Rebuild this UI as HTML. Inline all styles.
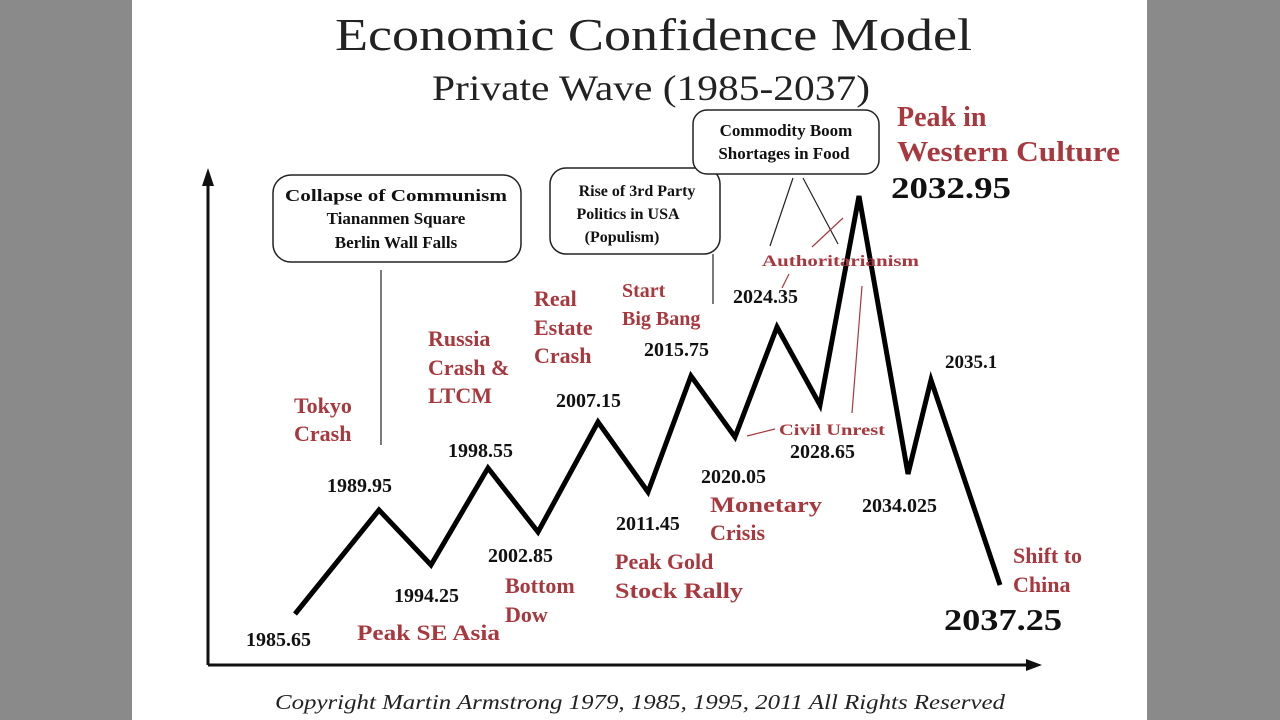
<!DOCTYPE html>
<html><head><meta charset="utf-8"><style>
body{margin:0;width:1280px;height:720px;background:#8a8a8a;overflow:hidden}
svg{display:block}
</style></head><body>
<svg width="1280" height="720" xmlns="http://www.w3.org/2000/svg" font-family="Liberation Serif, serif">
<rect x="0" y="0" width="1280" height="720" fill="#8a8a8a"/>
<rect x="132" y="0" width="1015" height="720" fill="#fff"/>
<text x="335" y="50" font-size="46" textLength="637" lengthAdjust="spacingAndGlyphs" fill="#222">Economic Confidence Model</text>
<text x="432" y="100" font-size="36" textLength="438" lengthAdjust="spacingAndGlyphs" fill="#222">Private Wave (1985-2037)</text>
<!-- axes -->
<g stroke="#111" stroke-width="3" fill="none">
<line x1="208" y1="180" x2="208" y2="665"/>
<line x1="208" y1="665" x2="1030" y2="665"/>
</g>
<polygon points="208,168 202,186 214,186" fill="#111"/>
<polygon points="1042,665 1026,659 1026,671" fill="#111"/>
<!-- boxes -->
<g fill="#fff" stroke="#222" stroke-width="1.5">
<rect x="273" y="175" width="248" height="87" rx="18"/>
<rect x="550" y="168" width="170" height="86" rx="16"/>
<rect x="693" y="110" width="186" height="64" rx="14"/>
</g>
<g stroke="#222" stroke-width="1.2">
<line x1="381" y1="270" x2="381" y2="445"/>
<line x1="713" y1="254" x2="713" y2="304"/>
<line x1="793" y1="178" x2="770" y2="246"/>
<line x1="803" y1="178" x2="838" y2="244"/>
</g>
<g stroke="#a8383e" stroke-width="1.2">
<line x1="843" y1="218" x2="812" y2="247"/>
<line x1="789" y1="274" x2="782" y2="288"/>
<line x1="862" y1="286" x2="852" y2="413"/>
<line x1="747" y1="436" x2="775" y2="429"/>
</g>
<g font-weight="bold" font-size="17" fill="#111" text-anchor="middle">
<text x="396" y="201" textLength="222" lengthAdjust="spacingAndGlyphs">Collapse of Communism</text>
<text x="396" y="224">Tiananmen Square</text>
<text x="396" y="248">Berlin Wall Falls</text>
<text x="637" y="196" font-size="16">Rise of 3rd Party</text>
<text x="628" y="219" font-size="16">Politics in USA</text>
<text x="622" y="242" font-size="16">(Populism)</text>
<text x="786" y="136">Commodity Boom</text>
<text x="784" y="159">Shortages in Food</text>
</g>
<!-- line -->
<polyline points="295,614 379,510 431,565 488,468 538,532 598,422 648,492 691,376 735,437 777,327 820,405 859,196 908,474 931,380 1000,585" fill="none" stroke="#000" stroke-width="5" stroke-linejoin="miter"/>
<!-- black labels -->
<g font-weight="bold" font-size="20" fill="#111">
<text x="246" y="646">1985.65</text>
<text x="327" y="492">1989.95</text>
<text x="394" y="602">1994.25</text>
<text x="448" y="457">1998.55</text>
<text x="488" y="562">2002.85</text>
<text x="556" y="407">2007.15</text>
<text x="616" y="530">2011.45</text>
<text x="644" y="356">2015.75</text>
<text x="701" y="483">2020.05</text>
<text x="733" y="303">2024.35</text>
<text x="790" y="458">2028.65</text>
<text x="862" y="512">2034.025</text>
<text x="945" y="368" font-size="19">2035.1</text>
<text x="891" y="198" font-size="31" textLength="120" lengthAdjust="spacingAndGlyphs">2032.95</text>
<text x="944" y="630" font-size="31" textLength="118" lengthAdjust="spacingAndGlyphs">2037.25</text>
</g>
<!-- red labels -->
<g font-weight="bold" font-size="22" fill="#a8383e">
<text x="294" y="413">Tokyo</text>
<text x="294" y="441">Crash</text>
<text x="428" y="346">Russia</text>
<text x="428" y="375">Crash &amp;</text>
<text x="428" y="403">LTCM</text>
<text x="534" y="306">Real</text>
<text x="534" y="335">Estate</text>
<text x="534" y="363">Crash</text>
<text x="622" y="297" font-size="20">Start</text>
<text x="622" y="325" font-size="20">Big Bang</text>
<text x="357" y="640" textLength="143" lengthAdjust="spacingAndGlyphs">Peak SE Asia</text>
<text x="505" y="593">Bottom</text>
<text x="505" y="622">Dow</text>
<text x="615" y="569">Peak Gold</text>
<text x="615" y="598" textLength="128" lengthAdjust="spacingAndGlyphs">Stock Rally</text>
<text x="710" y="512" textLength="112" lengthAdjust="spacingAndGlyphs">Monetary</text>
<text x="710" y="540">Crisis</text>
<text x="1013" y="563">Shift to</text>
<text x="1013" y="592">China</text>
<text x="897" y="126" font-size="28">Peak in</text>
<text x="897" y="161" font-size="28" textLength="223" lengthAdjust="spacingAndGlyphs">Western Culture</text>
<text x="762" y="266" font-size="16" textLength="157" lengthAdjust="spacingAndGlyphs">Authoritarianism</text>
<text x="779" y="435" font-size="16" textLength="106" lengthAdjust="spacingAndGlyphs">Civil Unrest</text>
</g>
<text x="275" y="709" font-size="21" font-style="italic" textLength="730" lengthAdjust="spacingAndGlyphs" fill="#222">Copyright Martin Armstrong 1979, 1985, 1995, 2011 All Rights Reserved</text>
</svg>
</body></html>
